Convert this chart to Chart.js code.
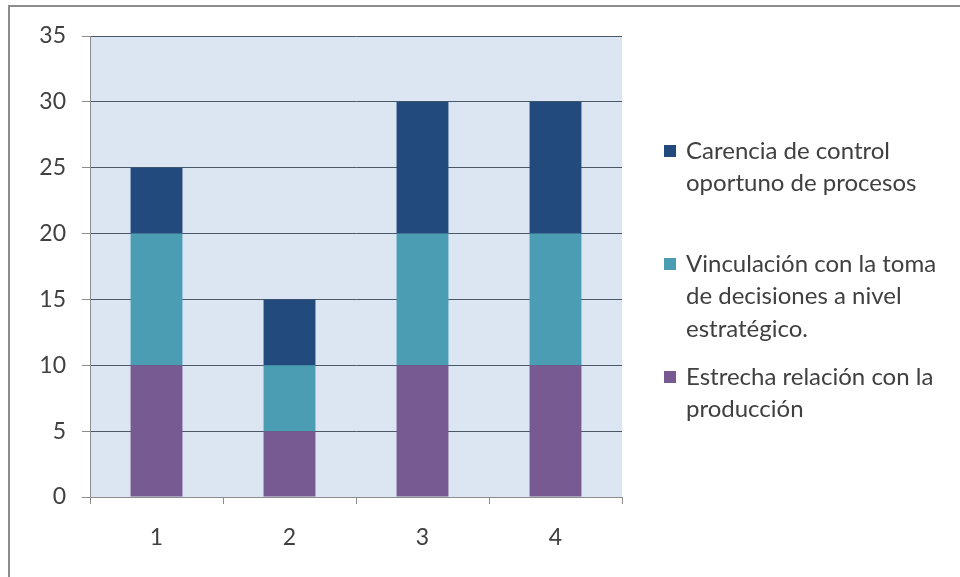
<!DOCTYPE html>
<html>
<head>
<meta charset="utf-8">
<script src="https://cdn.jsdelivr.net/npm/chart.js@4"></script>
<style>
  html, body { margin: 0; padding: 0; background: #fff; }
  #wrap { position: relative; width: 960px; height: 577px; overflow: hidden; }
  #frame { position: absolute; left: 8px; top: 5px; width: 1000px; height: 700px;
           border-top: 2px solid #8c8c8c; border-left: 2px solid #8c8c8c; }
  canvas { position: absolute; left: 0; top: 0; }
</style>
</head>
<body>
<div id="wrap">
  <canvas id="c" width="960" height="577"></canvas>
  <div id="frame"></div>
</div>
<script>
// Categories and series (stack order bottom → top)
const categories = ['1', '2', '3', '4'];
const estrecha = [10, 5, 10, 10];
const vinculacion = [10, 5, 10, 10];
const carencia = [5, 5, 10, 10];
const yTicks = [0, 5, 10, 15, 20, 25, 30, 35];

const seriesNames = {
  estrecha: ['Estrecha relación con la', 'producción'],
  vinculacion: ['Vinculación con la toma', 'de decisiones a nivel', 'estratégico.'],
  carencia: ['Carencia de control', 'oportuno de procesos']
};

const FONT = "'Lato', 'Open Sans', sans-serif";
const TEXT = '#404040';

// Light blue plot background
const plotBg = {
  id: 'plotBg',
  beforeDraw(chart) {
    const { ctx, chartArea: a } = chart;
    ctx.save();
    ctx.fillStyle = '#dce6f2';
    ctx.fillRect(a.left, a.top, a.right - a.left, a.bottom - a.top);
    ctx.restore();
  }
};

// Legend on the right with wrapped labels, top entry = top of stack
const sideLegend = {
  id: 'sideLegend',
  afterDraw(chart) {
    const { ctx } = chart;
    const items = [
      { ds: 2, top: 151 },
      { ds: 1, top: 264 },
      { ds: 0, top: 377 }
    ];
    ctx.save();
    ctx.font = "24px " + FONT;
    ctx.textBaseline = 'middle';
    items.forEach(it => {
      const ds = chart.data.datasets[it.ds];
      ctx.fillStyle = ds.backgroundColor;
      ctx.fillRect(664, it.top - 6, 12, 12);
      ctx.fillStyle = TEXT;
      ds.labelLines.forEach((line, i) => {
        ctx.fillText(line, 686, it.top + i * 32.5);
      });
    });
    ctx.restore();
  }
};

new Chart(document.getElementById('c'), {
  type: 'bar',
  data: {
    labels: categories,
    datasets: [
      { label: seriesNames.estrecha.join(' '), labelLines: seriesNames.estrecha,
        data: estrecha, backgroundColor: '#775a91' },
      { label: seriesNames.vinculacion.join(' '), labelLines: seriesNames.vinculacion,
        data: vinculacion, backgroundColor: '#4a9db3' },
      { label: seriesNames.carencia.join(' '), labelLines: seriesNames.carencia,
        data: carencia, backgroundColor: '#234a7c' }
    ]
  },
  options: {
    responsive: false,
    animation: false,
    events: [],
    layout: { padding: { left: 0, right: 338, top: 36, bottom: 0 } },
    datasets: { bar: { barPercentage: 0.39, categoryPercentage: 1.0, borderWidth: 0 } },
    plugins: { legend: { display: false }, tooltip: { enabled: false } },
    scales: {
      x: {
        stacked: true,
        grid: { offset: true, drawOnChartArea: false, tickLength: 7, tickColor: '#8c8c8c', lineWidth: 1 },
        border: { color: '#8c8c8c', width: 1 },
        ticks: { color: TEXT, font: { family: FONT, size: 23 }, padding: 20 },
        afterFit(s) { s.height = 80; }
      },
      y: {
        stacked: true,
        min: 0, max: 35,
        afterBuildTicks(s) { s.ticks = yTicks.map(v => ({ value: v })); },
        grid: { color: '#4a5868', lineWidth: 1, tickLength: 8, tickColor: '#8c8c8c' },
        border: { color: '#8c8c8c', width: 1 },
        ticks: { color: TEXT, font: { family: FONT, size: 23 }, padding: 16 },
        afterFit(s) { s.width = 90; }
      }
    }
  },
  plugins: [plotBg, sideLegend]
});
</script>
</body>
</html>
